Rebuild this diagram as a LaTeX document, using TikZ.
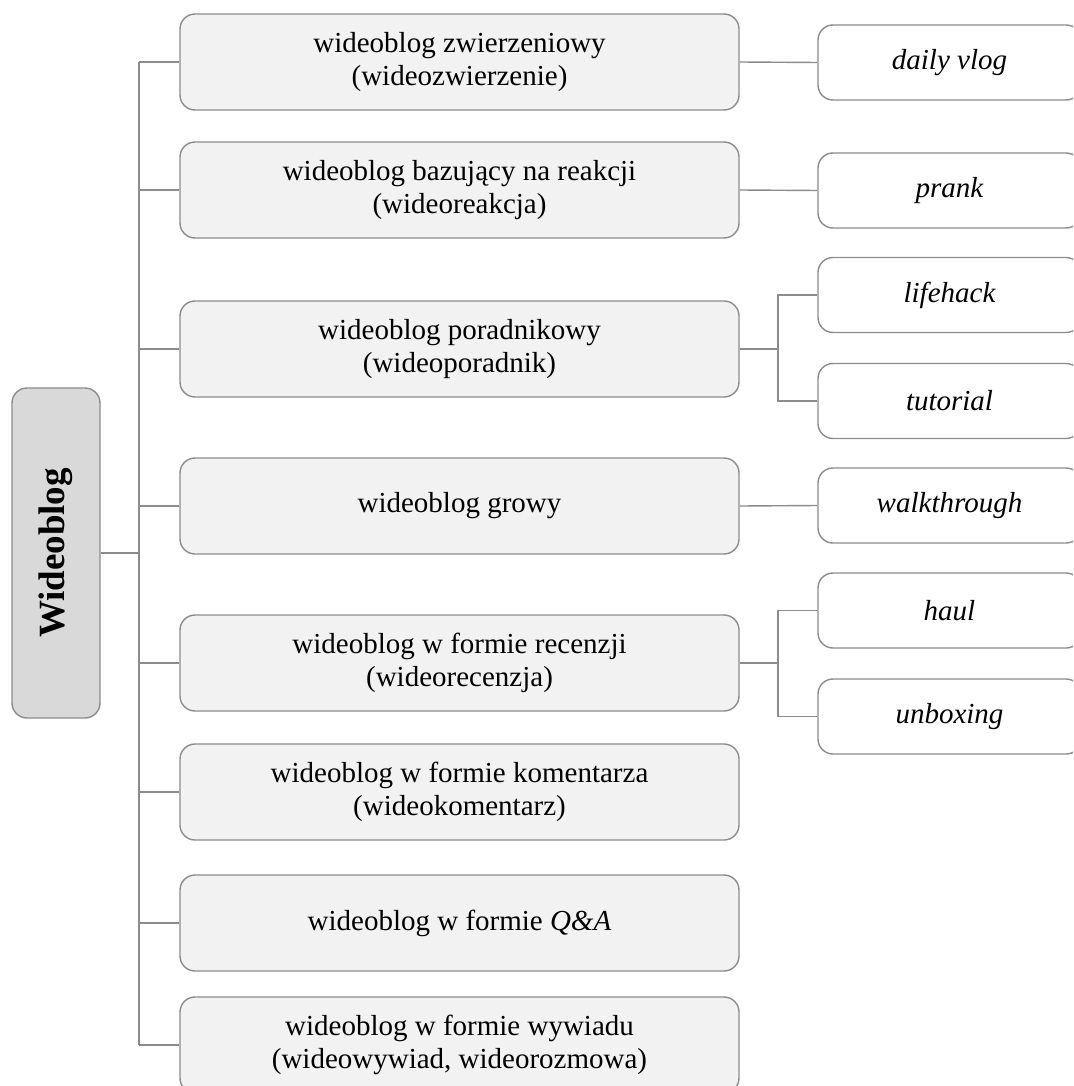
\documentclass[tikz,border=0pt]{standalone}
\usepackage{fontspec}
\setmainfont{Liberation Serif}
\definecolor{edge}{HTML}{8C8C8C}
\definecolor{rootfill}{HTML}{D9D9D9}
\definecolor{midfill}{HTML}{F2F2F2}
\begin{document}
\begin{tikzpicture}[x=1pt,y=-1pt,
  box/.style={draw=edge,line width=1.4pt,rounded corners=15pt,inner sep=0pt,align=center},
  rootbox/.style={box,fill=rootfill,minimum width=88pt,minimum height=330pt},
  midbox/.style={box,fill=midfill,minimum width=559pt,minimum height=96pt,
    font=\fontsize{29}{33}\selectfont},
  leafbox/.style={box,fill=white,minimum width=263pt,minimum height=75pt,
    font=\fontsize{29}{33}\selectfont\itshape},
  link/.style={draw=edge,line width=1.4pt}]
\useasboundingbox (0,0) rectangle (1073,1086);
\clip (0,0) rectangle (1073,1086);

% root
\node[rootbox] (root) at (56,553) {};
\node[rotate=90,font=\fontsize{37}{40}\selectfont\bfseries] (roottxt) at (56,553) {Wideoblog};

% main categories
\node[midbox] (b1) at (459.5,62)  {wideoblog zwierzeniowy\\(wideozwierzenie)};
\node[midbox] (b2) at (459.5,190) {wideoblog bazujący na reakcji\\(wideoreakcja)};
\node[midbox] (b3) at (459.5,349) {wideoblog poradnikowy\\(wideoporadnik)};
\node[midbox] (b4) at (459.5,506) {wideoblog growy};
\node[midbox] (b5) at (459.5,663) {wideoblog w formie recenzji\\(wideorecenzja)};
\node[midbox] (b6) at (459.5,792) {wideoblog w formie komentarza\\(wideokomentarz)};
\node[midbox] (b7) at (459.5,923) {wideoblog w formie \textit{Q\&A}};
\node[midbox] (b8) at (459.5,1045) {wideoblog w formie wywiadu\\(wideowywiad, wideorozmowa)};

% subtypes
\node[leafbox] (r1) at (949.5,62.5)  {daily vlog};
\node[leafbox] (r2) at (949.5,190.5) {prank};
\node[leafbox] (r3) at (949.5,295)   {lifehack};
\node[leafbox] (r4) at (949.5,401)   {tutorial};
\node[leafbox] (r5) at (949.5,505.5) {walkthrough};
\node[leafbox] (r6) at (949.5,610.5) {haul};
\node[leafbox] (r7) at (949.5,716.5) {unboxing};

% trunk and branch columns
\coordinate (tr) at (139,0);
\coordinate (br) at (778,0);

\path[link] (root.east) -- (root.east -| tr);
\path[link] (b1.west -| tr) -- (b8.west -| tr);
\foreach \b in {b1,b2,b3,b4,b5,b6,b7,b8}
  \path[link] (\b.west -| tr) -- (\b.west);

\path[link] (b1.east) -- (r1.west);
\path[link] (b2.east) -- (r2.west);
\path[link] (b4.east) -- (r5.west);
\path[link] (b3.east) -- (b3.east -| br);
\path[link] (r3.west) -- (r3.west -| br) -- (r4.west -| br) -- (r4.west);
\path[link] (b5.east) -- (b5.east -| br);
\path[link] (r6.west) -- (r6.west -| br) -- (r7.west -| br) -- (r7.west);
\end{tikzpicture}
\end{document}
